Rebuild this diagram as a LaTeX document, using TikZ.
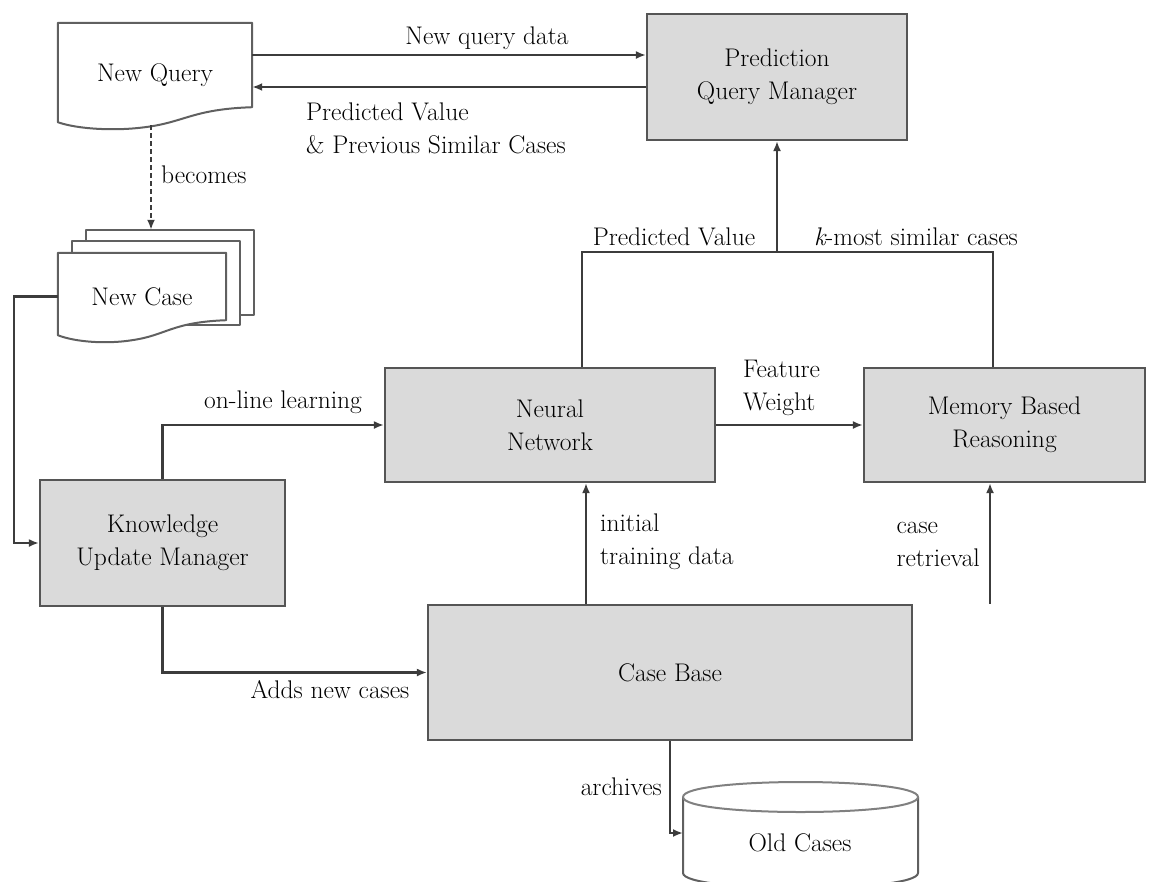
\documentclass[tikz,border=0pt]{standalone}
\usetikzlibrary{arrows.meta,calc,backgrounds}
\definecolor{boxline}{HTML}{555555}
\definecolor{boxfill}{HTML}{DADADA}
\definecolor{lineclr}{HTML}{3C3C3C}
\definecolor{docline}{HTML}{606060}
\begin{document}
\begin{tikzpicture}[x=1pt,y=-1pt,
  font=\fontsize{25.5}{33}\selectfont,
  box/.style={draw=boxline, fill=boxfill, line width=2.2pt, align=center, inner sep=0pt},
  plain/.style={align=center, inner sep=0pt},
  lbl/.style={inner sep=0pt, align=left},
  conn/.style={draw=lineclr, line width=2.2pt},
  arr/.style={conn, -{Latex[length=10pt,width=8pt]}},
  doc/.style={draw=docline, fill=white, line width=2pt, line join=round}]
\useasboundingbox (0,0) rectangle (1153,881);

% main processing boxes
\node[box, minimum width=260pt, minimum height=126pt] (pqm) at (777,77) {Prediction\\Query Manager};
\node[box, minimum width=330pt, minimum height=114pt] (nn) at (550,425) {Neural\\Network};
\node[box, minimum width=281pt, minimum height=114pt] (mbr) at (1004.5,425) {Memory Based\\Reasoning};
\node[box, minimum width=245pt, minimum height=126pt] (kum) at (162.5,543) {Knowledge\\Update Manager};
\node[box, minimum width=484pt, minimum height=135pt] (cb) at (670,672.5) {Case Base};

% document-shaped inputs
\node[plain, minimum width=194pt, minimum height=104pt] (nq) at (155,75) {New Query};
\node[plain, minimum width=168pt, minimum height=87pt] (nc) at (142,296.5) {New Case};

\begin{scope}[on background layer]
  % single document: New Query
  \draw[doc] (nq.north west) -- (nq.north east) -- ($(nq.south east)+(0,-20)$)
    .. controls ($(nq.south east)+(-60,-18)$) and ($(nq.south)+(30,-5)$) .. ($(nq.south)+(-10,0)$)
    .. controls ($(nq.south)+(-40,4)$) and ($(nq.south west)+(20,2)$) .. ($(nq.south west)+(0,-5)$)
    -- cycle;
  % stacked documents: New Case
  \draw[doc] ($(nc.north west)+(28,-23)$) rectangle ($(nc.north east)+(28,62)$);
  \draw[doc] ($(nc.north west)+(14,-11.5)$) rectangle ($(nc.north east)+(14,72)$);
  \draw[doc] (nc.north west) -- (nc.north east) -- ($(nc.south east)+(0,-20)$)
    .. controls ($(nc.south east)+(-55,-18)$) and ($(nc.south)+(25,-5)$) .. ($(nc.south)+(-10,0)$)
    .. controls ($(nc.south)+(-35,4)$) and ($(nc.south west)+(18,2)$) .. ($(nc.south west)+(0,-5)$)
    -- cycle;
\end{scope}

% archive store: Old Cases
\draw[doc] (683,797) -- (683,873) .. controls (683,893) and (918,893) .. (918,873) -- (918,797);
\draw[doc, draw=gray] (683,797) .. controls (683,777) and (918,777) .. (918,797)
  .. controls (918,817) and (683,817) .. (683,797);
\node[plain] (oc) at (800,843) {Old Cases};
\coordinate (ocin) at (683,833);

% query exchange
\draw[arr] ([yshift=20pt]nq.east) -- ([yshift=20pt]nq.east -| pqm.west);
\draw[arr] ([yshift=-12pt]nq.east -| pqm.west) -- ([yshift=-12pt]nq.east);
\node[plain] (lqd) at (487,38) {New query data};
\node[lbl, anchor=west] (lpv) at (306,128) {Predicted Value\\\& Previous Similar Cases};

% query becomes a case
\coordinate (ncb) at ($(nc.north west)+(28,-23)$);
\coordinate (becA) at ($(nq.south)+(-4,-2)$);
\draw[conn, dashed, dash pattern=on 5pt off 3pt, -{Latex[length=10pt,width=8pt]}] (becA) -- (becA |- ncb);
\node[lbl, anchor=west] (lbec) at (161,175) {becomes};

% new case to knowledge update manager
\draw[arr] (nc.west) -- ++(-44,0) |- (kum.west);

% knowledge update manager outputs
\draw[arr] (kum.north) |- (nn.west);
\node[plain] (lol) at (283,402) {on-line learning};
\draw[arr] (kum.south) |- (cb.west);
\node[plain] (lanc) at (330,690) {Adds new cases};

% feature weights
\draw[arr] (nn.east) -- (mbr.west);
\node[lbl, anchor=west] (lfw) at (743,388) {Feature\\Weight};

% results to prediction query manager
\coordinate (join) at (777,252);
\draw[conn] ([xshift=32pt]nn.north) |- ([xshift=-11.5pt]mbr.north |- join) -- ([xshift=-11.5pt]mbr.north);
\draw[arr] (join) -- (pqm.south);
\node[plain] (lpv2) at (674,237) {Predicted Value};
\node[plain] (lkm) at (916,237) {{\itshape k}-most similar cases};

% case base feeds
\draw[arr] ([xshift=-84pt]cb.north) -- ([xshift=-84pt]cb.north |- nn.south);
\node[lbl, anchor=west] (litd) at (600,542) {initial\\training data};
\draw[arr] ([xshift=320pt]cb.north) -- ([xshift=320pt]cb.north |- mbr.south);
\node[lbl, anchor=east] (lcr) at (980,544) {case\\retrieval};

% archiving
\draw[arr] (cb.south) |- (ocin);
\node[plain, anchor=east] (larc) at (662,787) {archives};
\end{tikzpicture}
\end{document}
